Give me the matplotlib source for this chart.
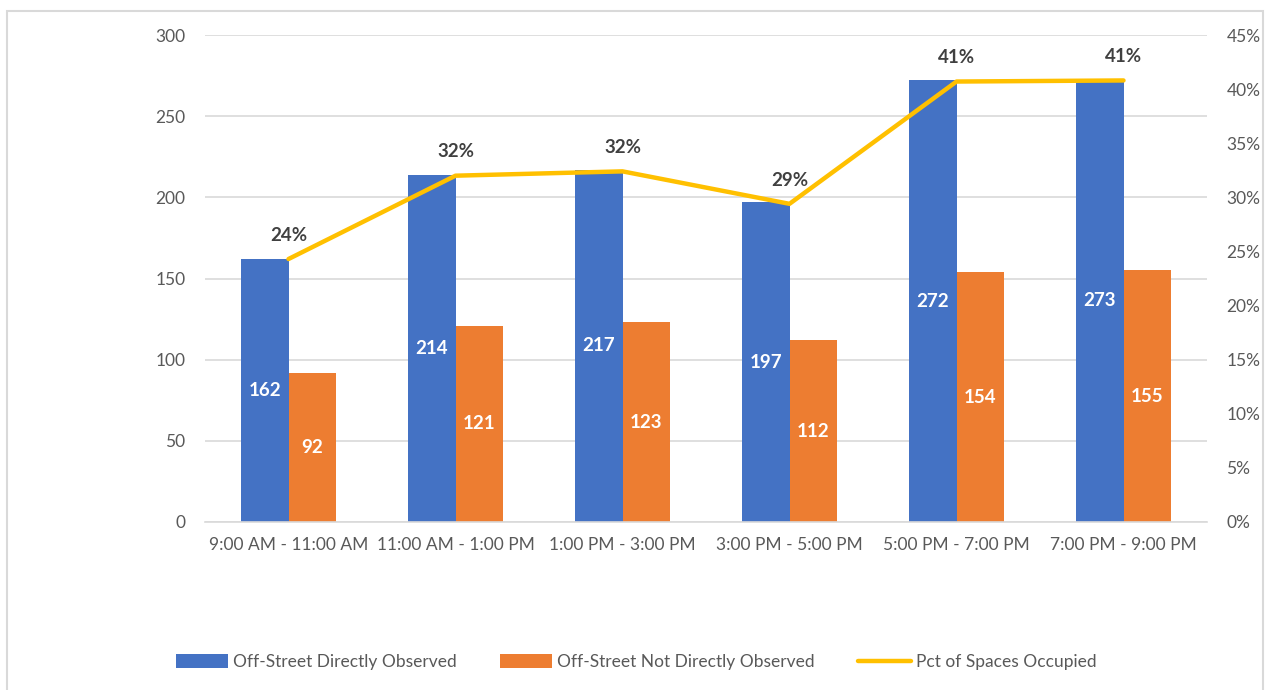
import matplotlib
matplotlib.use("Agg")
import matplotlib.pyplot as plt
from matplotlib.patches import Rectangle
from matplotlib.ticker import FuncFormatter, MultipleLocator
import numpy as np

plt.rcParams['font.family'] = ['Lato', 'DejaVu Sans']

periods = ["9:00 AM - 11:00 AM", "11:00 AM - 1:00 PM", "1:00 PM - 3:00 PM",
           "3:00 PM - 5:00 PM", "5:00 PM - 7:00 PM", "7:00 PM - 9:00 PM"]
directly_observed = [162, 214, 217, 197, 272, 273]
not_directly_observed = [92, 121, 123, 112, 154, 155]
pct_occupied = [0.243, 0.320, 0.324, 0.294, 0.407, 0.408]

BLUE = "#4472C4"
ORANGE = "#ED7D31"
GOLD = "#FFC000"
GRID = "#D9D9D9"
TICK = "#595959"

fig = plt.figure(figsize=(12.66, 6.9), dpi=100)
fig.patches.append(Rectangle((7 / 1266, -0.05), (1263 - 7) / 1266, (690 - 11) / 690 + 0.05,
                             transform=fig.transFigure, fill=False,
                             edgecolor="#D9D9D9", linewidth=1.5, zorder=0))

ax = fig.add_axes([205 / 1266, (690 - 522) / 690, (1207 - 205) / 1266, (522 - 35) / 690])
x = np.arange(len(periods))
w = 0.285

b1 = ax.bar(x - w / 2, directly_observed, w, color=BLUE, zorder=2,
            label="Off-Street Directly Observed")
b2 = ax.bar(x + w / 2, not_directly_observed, w, color=ORANGE, zorder=2,
            label="Off-Street Not Directly Observed")

for bars, vals in ((b1, directly_observed), (b2, not_directly_observed)):
    for rect, v in zip(bars, vals):
        ax.text(rect.get_x() + rect.get_width() / 2, v / 2, f"{v}",
                ha="center", va="center", color="white", fontsize=13.5,
                fontweight="bold", zorder=3)

ax.set_xlim(-0.5, len(periods) - 0.5)
ax.set_ylim(0, 300)
ax.yaxis.set_major_locator(MultipleLocator(50))
ax.set_xticks(x)
ax.set_xticklabels(periods)
ax.grid(axis="y", color=GRID, linewidth=1.2, zorder=0)
ax.set_axisbelow(True)
for s in ("top", "right", "left"):
    ax.spines[s].set_visible(False)
ax.spines["bottom"].set_color(GRID)
ax.spines["bottom"].set_linewidth(1.2)
ax.tick_params(axis="both", length=0, colors=TICK, labelsize=12.5)
ax.tick_params(axis="y", pad=14)
ax.tick_params(axis="x", pad=11)

ax2 = ax.twinx()
ax2.set_ylim(0, 0.45)
ax2.yaxis.set_major_locator(MultipleLocator(0.05))
ax2.yaxis.set_major_formatter(FuncFormatter(lambda v, p: f"{v * 100:.0f}%"))
for s in ax2.spines.values():
    s.set_visible(False)
ax2.tick_params(axis="y", length=0, colors=TICK, labelsize=12.5, pad=14)

line, = ax2.plot(x, pct_occupied, color=GOLD, linewidth=3.2, zorder=4,
                 solid_capstyle="round", label="Pct of Spaces Occupied")
for xi, p in zip(x, pct_occupied):
    ax2.annotate(f"{p * 100:.0f}%", (xi, p), xytext=(0, 11), textcoords="offset points",
                 ha="center", va="bottom", fontsize=13.5, fontweight="bold",
                 color="#404040")

handles = [b1, b2, line]
leg = fig.legend(handles, [h.get_label() for h in handles], loc="center",
                 bbox_to_anchor=(636 / 1266, (690 - 662) / 690), ncol=3,
                 frameon=False, fontsize=12.5, handlelength=3.0, handleheight=0.8,
                 columnspacing=2.5, handletextpad=0.3)
for t in leg.get_texts():
    t.set_color(TICK)

fig.savefig("out.png", dpi=100)
